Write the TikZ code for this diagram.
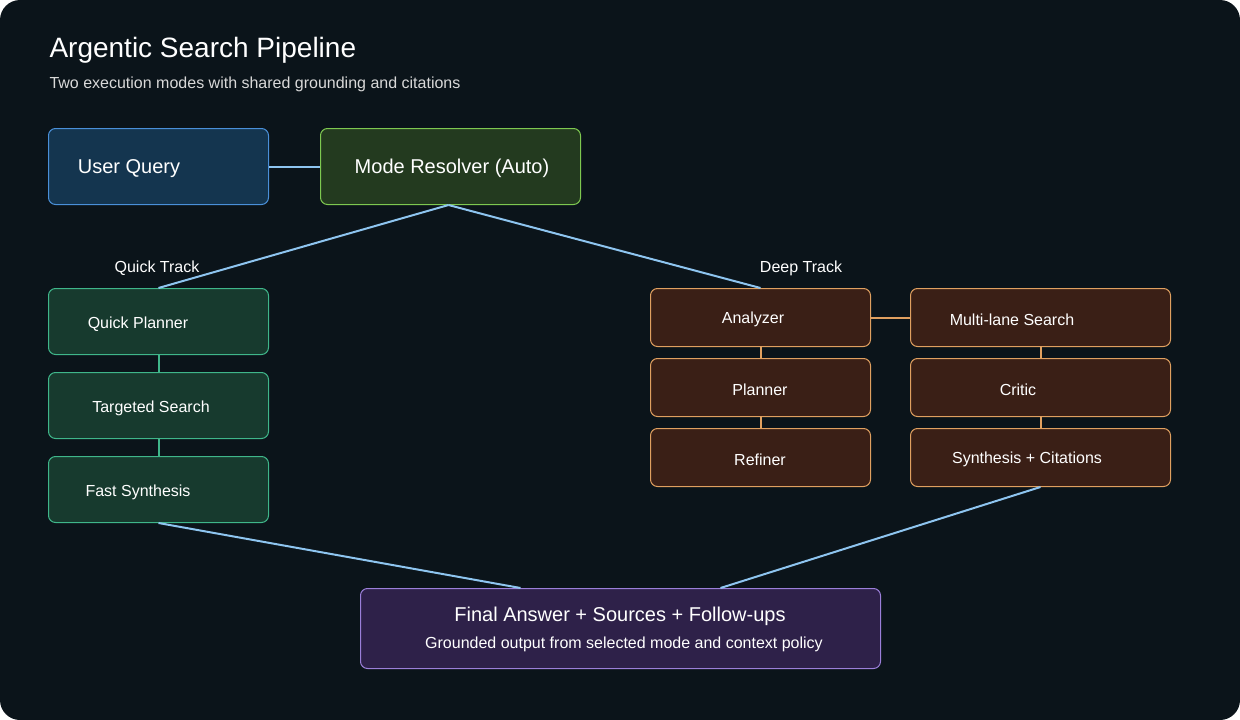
\documentclass[tikz,border=0pt]{standalone}
\usepackage{fontspec}
\setmainfont{Liberation Sans}
\definecolor{bgdark}{HTML}{0B141A}
\definecolor{wire}{HTML}{8EC5F0}
\definecolor{userfill}{HTML}{14354F}\definecolor{userline}{HTML}{4A90D9}
\definecolor{modefill}{HTML}{233A1F}\definecolor{modeline}{HTML}{7EC850}
\definecolor{quickfill}{HTML}{173A2E}\definecolor{quickline}{HTML}{3FB68A}
\definecolor{deepfill}{HTML}{3A1F16}\definecolor{deepline}{HTML}{E0A060}
\definecolor{finalfill}{HTML}{2E2149}\definecolor{finalline}{HTML}{9B7FD9}
\tikzset{
  box/.style={draw, rounded corners=7pt, line width=1pt, anchor=north west, inner sep=0pt},
  quick/.style={box, fill=quickfill, draw=quickline, minimum width=220pt, minimum height=66pt},
  deep/.style={box, fill=deepfill, draw=deepline, minimum height=58pt},
  txt/.style={text=white, yshift=-2.5pt, font=\fontsize{16}{19}\selectfont},
  big/.style={txt, font=\fontsize{20}{24}\selectfont},
  wire/.style={draw=wire, line width=2pt},
}
\begin{document}
\begin{tikzpicture}[x=1pt,y=-1pt]
  \fill[white] (0,0) rectangle (1240,720);
  \fill[bgdark, rounded corners=20pt] (0,0) rectangle (1240,720);
  % title
  \node[anchor=west, text=white, yshift=-2pt, font=\fontsize{28}{32}\selectfont] at (46,48) {Argentic Search Pipeline};
  \node[anchor=west, text=white!85!black, yshift=-2pt, font=\fontsize{16}{19}\selectfont] at (46,82) {Two execution modes with shared grounding and citations};
  % top row
  \node[box, fill=userfill, draw=userline, minimum width=220pt, minimum height=76pt] (user) at (48,128) {};
  \node[box, fill=modefill, draw=modeline, minimum width=260pt, minimum height=76pt] (mode) at (320,128) {};
  \node[big] at (129,166) {User Query};
  \node[big] at (452,166) {Mode Resolver (Auto)};
  \draw[wire] (user.east) -- (mode.west);
  % quick track
  \node[quick] (qplan) at (48,288) {};
  \node[quick] (qsearch) at (48,372) {};
  \node[quick] (qsyn) at (48,456) {};
  \node[txt] at (138,322) {Quick Planner};
  \node[txt] at (151,406) {Targeted Search};
  \node[txt] at (138,490) {Fast Synthesis};
  \node[txt] at (157,266) {Quick Track};
  \draw[draw=quickline, line width=2pt] (qplan.south) -- (qsearch.north);
  \draw[draw=quickline, line width=2pt] (qsearch.south) -- (qsyn.north);
  % deep track
  \node[deep, minimum width=220pt] (analyzer) at (650,288) {};
  \node[deep, minimum width=220pt] (planner) at (650,358) {};
  \node[deep, minimum width=220pt] (refiner) at (650,428) {};
  \node[deep, minimum width=260pt] (multi) at (910,288) {};
  \node[deep, minimum width=260pt] (critic) at (910,358) {};
  \node[deep, minimum width=260pt] (dsyn) at (910,428) {};
  \node[txt] at (753,317) {Analyzer};
  \node[txt] at (760,387) {Planner};
  \node[txt] at (760,457) {Refiner};
  \node[txt] at (1012,317) {Multi-lane Search};
  \node[txt] at (1018,387) {Critic};
  \node[txt] at (1027,457) {Synthesis + Citations};
  \node[txt] at (801,266) {Deep Track};
  \draw[draw=deepline, line width=2pt] (analyzer.east) -- (multi.west);
  \draw[draw=deepline, line width=2pt] (analyzer.south) -- (planner.north);
  \draw[draw=deepline, line width=2pt] (planner.south) -- (refiner.north);
  \draw[draw=deepline, line width=2pt] (multi.south) -- (critic.north);
  \draw[draw=deepline, line width=2pt] (critic.south) -- (dsyn.north);
  % final
  \node[box, fill=finalfill, draw=finalline, minimum width=520pt, minimum height=80pt] (final) at (360,588) {};
  \node[big] at (620,614) {Final Answer + Sources + Follow-ups};
  \node[txt] at (624,642) {Grounded output from selected mode and context policy};
  % routing
  \draw[wire] ([xshift=-2pt]mode.south) -- (qplan.north);
  \draw[wire] ([xshift=-2pt]mode.south) -- (analyzer.north);
  \draw[wire] (qsyn.south) -- ([xshift=-100pt]final.north);
  \draw[wire] (dsyn.south) -- ([xshift=100pt]final.north);
\end{tikzpicture}
\end{document}
